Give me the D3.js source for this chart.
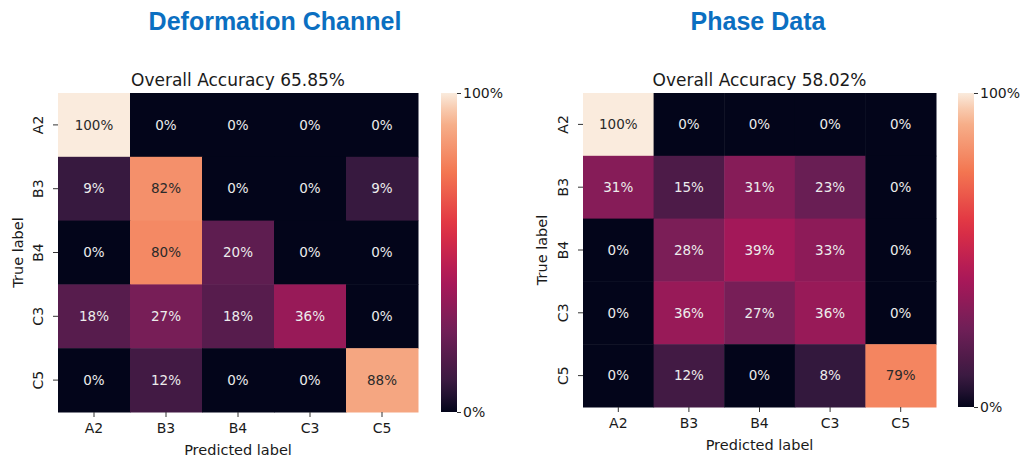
<!DOCTYPE html>
<html>
<head>
<meta charset="utf-8">
<script src="https://cdn.jsdelivr.net/npm/d3@7"></script>
<style>
  body { margin: 0; background: #fff; }
  svg text { font-family: "DejaVu Sans", sans-serif; }
</style>
</head>
<body>
<div id="container"></div>
<script>
// etiquetas de clases
var clases = ["A2", "B3", "B4", "C3", "C5"]

// matrices de confusion (%), filas = true label, columnas = predicted label
var deformacion = [
  [100, 0, 0, 0, 0],
  [9, 82, 0, 0, 9],
  [0, 80, 20, 0, 0],
  [18, 27, 18, 36, 0],
  [0, 12, 0, 0, 88]
]
var fase = [
  [100, 0, 0, 0, 0],
  [31, 15, 31, 23, 0],
  [0, 28, 39, 33, 0],
  [0, 36, 27, 36, 0],
  [0, 12, 0, 8, 79]
]
var titulos = ["Deformation Channel", "Phase Data"]
var precision = ["Overall Accuracy 65.85%", "Overall Accuracy 58.02%"]
var ticksBarra = [0, 100]

// paleta "rocket" aproximada
var rocket = d3.scaleLinear()
  .domain([0, 0.083, 0.25, 0.417, 0.583, 0.75, 0.917, 1])
  .range(["#03051a", "#35193e", "#701f57", "#ad1759", "#e13342", "#f37651", "#f6b48f", "#faebdd"])
  .interpolate(d3.interpolateRgb)
var color = d3.scaleSequential(function(t){ return rocket(t) }).domain([0, 100])

var ancho = 1022, alto = 463
var svg = d3.select("#container").append("svg")
  .attr("width", ancho).attr("height", alto)

var defs = svg.append("defs")
var grad = defs.append("linearGradient").attr("id", "barra")
  .attr("x1", 0).attr("y1", 1).attr("x2", 0).attr("y2", 0)
d3.range(0, 1.0001, 0.05).forEach(function(t){
  grad.append("stop").attr("offset", t).attr("stop-color", color(t * 100))
})

var paneles = [
  {datos: deformacion, titulo: titulos[0], acc: precision[0], x0: 58, x1: 418, y0: 93, y1: 412, cb: 441, tl: 18, tituloX: 275},
  {datos: fase, titulo: titulos[1], acc: precision[1], x0: 583, x1: 936, y0: 93, y1: 407, cb: 958, tl: 542, tituloX: 758}
]

paneles.forEach(function(p){
  var g = svg.append("g")
  var x = d3.scaleBand().domain(clases).range([p.x0, p.x1])
  var y = d3.scaleBand().domain(clases).range([p.y0, p.y1])

  // titulo azul
  g.append("text").attr("x", p.tituloX).attr("y", 30)
    .attr("text-anchor", "middle")
    .style("font-family", "'Liberation Sans', Arial, sans-serif")
    .style("font-weight", "bold").style("font-size", "25px")
    .attr("fill", "#0b6fc1").text(p.titulo)

  g.append("text").attr("x", (p.x0 + p.x1) / 2).attr("y", 86)
    .attr("text-anchor", "middle").style("font-size", "17px")
    .attr("fill", "#1a1a1a").text(p.acc)

  var celdas = []
  p.datos.forEach(function(fila, i){
    fila.forEach(function(v, j){ celdas.push({t: clases[i], p: clases[j], v: v}) })
  })

  g.selectAll("rect.celda").data(celdas).enter().append("rect")
    .attr("class", "celda")
    .attr("x", function(d){ return x(d.p) })
    .attr("y", function(d){ return y(d.t) })
    .attr("width", x.bandwidth() + 0.5)
    .attr("height", y.bandwidth() + 0.5)
    .attr("fill", function(d){ return color(d.v) })

  g.selectAll("text.valor").data(celdas).enter().append("text")
    .attr("class", "valor")
    .attr("x", function(d){ return x(d.p) + x.bandwidth() / 2 })
    .attr("y", function(d){ return y(d.t) + y.bandwidth() / 2 })
    .attr("dy", "0.35em").attr("text-anchor", "middle")
    .style("font-size", "13.5px")
    .attr("fill", function(d){ return d.v >= 60 ? "#2a2a2a" : "#ececec" })
    .text(function(d){ return d.v + "%" })

  // ejes
  var ejeX = g.append("g").attr("transform", "translate(0," + p.y1 + ")")
    .call(d3.axisBottom(x).tickSize(5).tickSizeOuter(0))
  var ejeY = g.append("g").attr("transform", "translate(" + p.x0 + ",0)")
    .call(d3.axisLeft(y).tickSize(5).tickSizeOuter(0))
  ;[ejeX, ejeY].forEach(function(e){
    e.select(".domain").remove()
    e.selectAll("line").attr("stroke", "#333")
    e.selectAll("text").style("font-size", "14px").attr("fill", "#1a1a1a")
      .style("font-family", "'DejaVu Sans', sans-serif")
  })
  ejeX.selectAll("text").attr("dy", "0.95em")
  ejeY.selectAll("text")
    .attr("x", 0).attr("y", 0)
    .attr("transform", "translate(-20,0) rotate(-90)")
    .attr("dy", "0.35em").attr("text-anchor", "middle")

  g.append("text").attr("x", (p.x0 + p.x1) / 2).attr("y", p.y1 + 43)
    .attr("text-anchor", "middle").style("font-size", "14.5px")
    .attr("fill", "#1a1a1a").text("Predicted label")
  g.append("text")
    .attr("transform", "translate(" + p.tl + "," + (p.y0 + p.y1) / 2 + ") rotate(-90)")
    .attr("dy", "0.35em").attr("text-anchor", "middle").style("font-size", "14.5px")
    .attr("fill", "#1a1a1a").text("True label")

  // barra de color
  var yb = d3.scaleLinear().domain([0, 100]).range([p.y1, p.y0])
  g.append("rect").attr("x", p.cb).attr("y", p.y0).attr("width", 16)
    .attr("height", p.y1 - p.y0).attr("fill", "url(#barra)")
  var ejeB = g.append("g").attr("transform", "translate(" + (p.cb + 16) + ",0)")
    .call(d3.axisRight(yb).tickValues(ticksBarra).tickSize(4).tickFormat(function(d){ return d + "%" }))
  ejeB.select(".domain").remove()
  ejeB.selectAll("line").attr("stroke", "#333")
  ejeB.selectAll("text").style("font-size", "14px").attr("fill", "#1a1a1a")
    .style("font-family", "'DejaVu Sans', sans-serif").attr("x", 6)
})
</script>
</body>
</html>
